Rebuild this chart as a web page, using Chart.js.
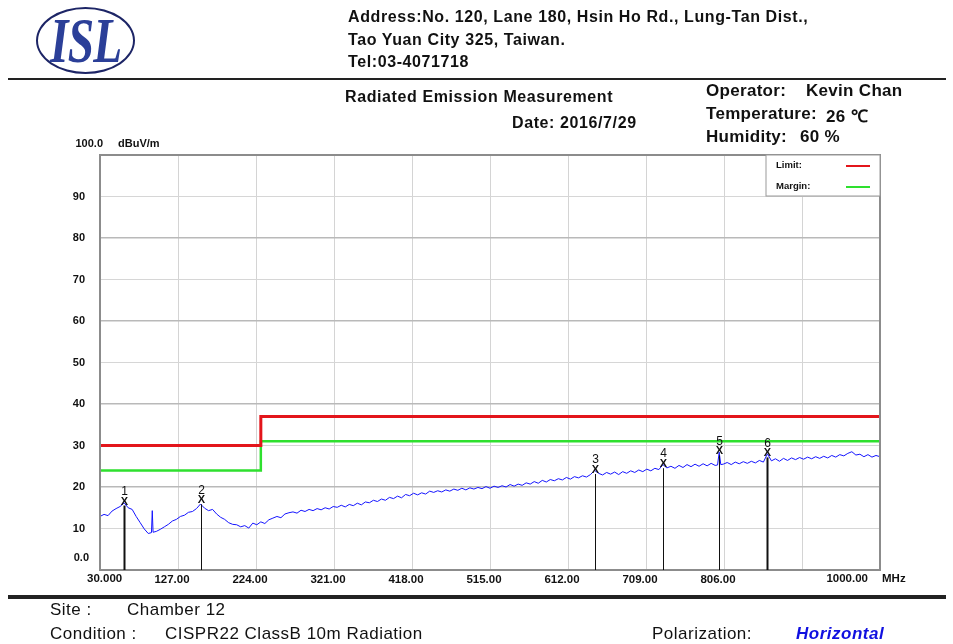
<!DOCTYPE html>
<html>
<head>
<meta charset="utf-8">
<script src="https://cdn.jsdelivr.net/npm/chart.js@4.4.0/dist/chart.umd.min.js"></script>
<style>
  body { margin: 0; background: #fff; }
  #page { position: relative; width: 953px; height: 644px; overflow: hidden; font-family: "Liberation Sans", Arial, sans-serif; color: #111; }
  #page canvas { position: absolute; left: 0; top: 0; }
  .t { position: absolute; white-space: nowrap; font-weight: bold; }
  .hd { font-size: 16px; letter-spacing: 0.6px; }
  .op { font-size: 17px; letter-spacing: 0.3px; }
  .ft { font-size: 17px; letter-spacing: 0.5px; font-weight: normal; }
  #logo { position: absolute; left: 36px; top: 7px; width: 95px; height: 63px; border: 2px solid #1d2566; border-radius: 50%; }
  #logo span { position: absolute; left: 12px; top: -5px; font-family: "Liberation Serif", "DejaVu Serif", serif; font-style: italic; font-weight: bold; font-size: 64px; color: #2b3f98; transform: scaleX(0.74); transform-origin: left top; letter-spacing: -1px; }
  .rule { position: absolute; left: 8px; width: 938px; background: #222; }
</style>
</head>
<body>
<div id="page">
  <canvas id="chart" width="953" height="644"></canvas>
  <div id="logo"><span>ISL</span></div>
  <div class="t hd" style="left:348px;top:8px;">Address:No. 120, Lane 180, Hsin Ho Rd., Lung-Tan Dist.,</div>
  <div class="t hd" style="left:348px;top:31px;">Tao Yuan City 325, Taiwan.</div>
  <div class="t hd" style="left:348px;top:53px;">Tel:03-4071718</div>
  <div class="rule" style="top:78px;height:2px;"></div>
  <div class="t hd" style="left:345px;top:88px;">Radiated Emission Measurement</div>
  <div class="t hd" style="left:512px;top:114px;">Date: 2016/7/29</div>
  <div class="t op" style="left:706px;top:81px;">Operator:</div>
  <div class="t op" style="left:806px;top:81px;">Kevin Chan</div>
  <div class="t op" style="left:706px;top:104px;">Temperature:</div>
  <div class="t op" style="left:826px;top:104px;">26 ℃</div>
  <div class="t op" style="left:706px;top:127px;">Humidity:</div>
  <div class="t op" style="left:800px;top:127px;">60 %</div>
  <div class="rule" style="top:595px;height:4px;"></div>
  <div class="t ft" style="left:50px;top:600px;">Site :</div>
  <div class="t ft" style="left:127px;top:600px;">Chamber 12</div>
  <div class="t ft" style="left:50px;top:624px;">Condition :</div>
  <div class="t ft" style="left:165px;top:624px;">CISPR22 ClassB 10m Radiation</div>
  <div class="t ft" style="left:652px;top:624px;">Polarization:</div>
  <div class="t ft" style="left:796px;top:624px;color:#1010e0;font-style:italic;font-weight:bold;">Horizontal</div>
</div>
<script>
// sweep frequencies (MHz) and measured level (dBuV/m)
var traceFreq = [
  30, 35, 40, 45, 50, 55, 60, 65, 70, 75,
  80, 85, 90, 94, 95, 96, 100, 105, 110, 115, 120, 125,
  130, 135, 140, 145, 150, 155, 160, 165, 170, 175,
  180, 185, 190, 195, 200, 205, 210, 215, 220, 225,
  230, 235, 240, 245, 250, 255, 260, 265, 270, 275,
  280, 285, 290, 295, 300, 305, 310, 315, 320, 325,
  330, 335, 340, 345, 350, 355, 360, 365, 370, 375,
  380, 385, 390, 395, 400, 405, 410, 415, 420, 425,
  430, 435, 440, 445, 450, 455, 460, 465, 470, 475,
  480, 485, 490, 495, 500, 505, 510, 515, 520, 525,
  530, 535, 540, 545, 550, 555, 560, 565, 570, 575,
  580, 585, 590, 595, 600, 605, 610, 615, 620, 625,
  630, 635, 640, 645, 650, 655, 660, 665, 670, 675,
  680, 685, 690, 695, 700, 705, 710, 715, 720, 725,
  730, 735, 740, 745, 750, 755, 760, 765, 770, 775,
  780, 785, 790, 795, 798, 800, 802, 805, 810, 815, 820, 825,
  830, 835, 840, 845, 850, 855, 860, 865, 870, 875,
  880, 885, 890, 895, 900, 905, 910, 915, 920, 925,
  930, 935, 940, 945, 950, 955, 960, 965, 970, 975,
  980, 985, 990, 995, 1000
];
var traceLevel = [
  12.9, 13.4, 13.1, 14.2, 14.8, 15.3, 16.2, 15.0, 14.6, 12.9,
  11.4, 9.9, 8.8, 9.0, 14.3, 9.1, 9.3, 9.8, 10.4, 11.0, 11.8, 12.2,
  12.9, 13.2, 13.9, 14.1, 14.8, 15.9, 14.9, 14.3, 14.6, 13.5,
  12.7, 12.2, 11.4, 11.0, 10.9, 10.4, 10.7, 10.1, 11.3, 10.9,
  11.6, 11.2, 12.1, 12.5, 12.9, 12.6, 13.5, 13.8, 14.0, 13.7,
  14.4, 14.1, 14.6, 14.3, 14.8, 14.5, 15.0, 14.7, 15.3, 15.1,
  15.6, 15.2, 15.8, 15.5, 16.1, 15.7, 16.4, 16.2, 16.8, 16.5,
  17.1, 16.8, 17.5, 17.2, 17.8, 17.4, 18.2, 17.9, 18.5, 18.1,
  18.6, 18.3, 19.0, 18.7, 19.1, 18.8, 19.3, 19.0, 19.5, 19.2,
  19.7, 19.3, 19.8, 19.5, 19.9, 19.6, 20.1, 19.7, 20.2, 19.9,
  20.3, 20.0, 20.6, 20.2, 20.7, 20.4, 21.0, 20.7, 21.3, 20.9,
  21.6, 21.2, 21.8, 21.5, 22.0, 21.7, 22.3, 21.9, 22.5, 22.2,
  22.7, 22.4, 23.0, 24.0, 23.3, 22.9, 23.5, 23.1, 23.6, 23.0,
  23.7, 23.3, 23.9, 23.5, 24.1, 23.7, 24.3, 23.9, 24.5, 24.2,
  25.4, 24.6, 25.0, 24.5, 25.2, 24.7, 25.4, 24.9, 25.5, 25.0,
  25.6, 25.1, 25.7, 25.2, 25.3, 28.4, 25.4, 25.5, 25.9, 25.4, 26.0, 25.6,
  26.1, 25.7, 26.2, 25.8, 26.4, 26.0, 28.0, 26.3, 26.8, 26.2,
  26.9, 26.4, 27.0, 26.6, 27.1, 26.7, 27.2, 26.8, 27.3, 26.9,
  27.4, 27.0, 27.6, 27.2, 27.8, 27.5, 28.1, 28.5, 27.7, 27.9,
  27.3, 27.8, 27.2, 27.6, 27.3
];

// CISPR22 class B limit and margin
var limitFreq = [30, 230, 230, 1000];
var limitLevel = [30, 30, 37, 37];
var marginLevel = [24, 24, 31, 31];

// peak markers
var markerNo = ['1', '2', '3', '4', '5', '6'];
var markerFreq = [60, 155, 645, 730, 800, 860];
var markerLevel = [16.5, 16.8, 24.1, 25.5, 28.6, 28.1];

var xTickValues = [30, 127, 224, 321, 418, 515, 612, 709, 806, 903, 1000];
var xTickLabels = ['30.000', '127.00', '224.00', '321.00', '418.00', '515.00', '612.00', '709.00', '806.00', '', '1000.00'];

function pts(xs, ys) {
  return xs.map(function(x, i) { return {x: x, y: ys[i]}; });
}

var LBL = '"Liberation Sans", Arial, sans-serif';

var extras = {
  id: 'extras',
  afterDraw: function(chart) {
    var ctx = chart.ctx, a = chart.chartArea;
    var xs = chart.scales.x, ys = chart.scales.y;
    var last = xTickLabels.length - 1;
    ctx.save();
    // plot frame
    ctx.strokeStyle = '#8c8c8c';
    ctx.lineWidth = 2;
    ctx.strokeRect(a.left, a.top, a.right - a.left, a.bottom - a.top);

    ctx.fillStyle = '#111';
    ctx.font = 'bold 11px ' + LBL;
    ctx.textBaseline = 'middle';
    ctx.textAlign = 'right';
    ctx.fillText('100.0', a.left + 3, a.top - 11);
    ctx.fillText('0.0', a.left - 11, ys.getPixelForValue(0) - 12);
    ctx.textAlign = 'left';
    ctx.fillText('dBuV/m', a.left + 18, a.top - 11);

    // end labels of the frequency axis
    ctx.font = 'bold 11.5px ' + LBL;
    ctx.fillText(xTickLabels[0], xs.getPixelForValue(xTickValues[0]) - 13, a.bottom + 9);
    ctx.textAlign = 'right';
    ctx.fillText(xTickLabels[last], xs.getPixelForValue(xTickValues[last]) - 12, a.bottom + 9);
    ctx.textAlign = 'left';
    ctx.fillText('MHz', a.right + 2, a.bottom + 9);

    // legend
    ctx.fillStyle = '#fff';
    ctx.fillRect(a.right - 114, a.top, 114, 41);
    ctx.strokeStyle = '#9a9a9a';
    ctx.lineWidth = 1;
    ctx.strokeRect(a.right - 114, a.top, 114, 41);
    ctx.fillStyle = '#111';
    ctx.font = 'bold 9.5px ' + LBL;
    ctx.fillText('Limit:', a.right - 104, a.top + 10);
    ctx.fillText('Margin:', a.right - 104, a.top + 31);
    ctx.lineWidth = 2;
    ctx.strokeStyle = '#e3151b';
    ctx.beginPath(); ctx.moveTo(a.right - 34, a.top + 11); ctx.lineTo(a.right - 10, a.top + 11); ctx.stroke();
    ctx.strokeStyle = '#2ee02e';
    ctx.beginPath(); ctx.moveTo(a.right - 34, a.top + 32); ctx.lineTo(a.right - 10, a.top + 32); ctx.stroke();

    // markers
    ctx.textAlign = 'center';
    for (var i = 0; i < markerNo.length; i++) {
      var px = Math.round(xs.getPixelForValue(markerFreq[i])) + 0.5;
      var py = ys.getPixelForValue(markerLevel[i]);
      ctx.strokeStyle = '#111';
      ctx.lineWidth = (i === 0 || i === 5) ? 2 : 1;
      ctx.beginPath(); ctx.moveTo(px, a.bottom); ctx.lineTo(px, py + 4); ctx.stroke();
      ctx.fillStyle = '#111';
      ctx.font = 'bold 11px ' + LBL;
      ctx.fillText('X', px, py);
      ctx.font = '12px ' + LBL;
      ctx.fillText(markerNo[i], px, py - 10);
    }
    ctx.restore();
  }
};

var ctx = document.getElementById('chart').getContext('2d');
var chart = new Chart(ctx, {
  type: 'line',
  data: {
    datasets: [
      {
        label: 'Level',
        data: pts(traceFreq, traceLevel),
        borderColor: '#1414ff',
        borderWidth: 1,
        pointRadius: 0,
        fill: false
      },
      {
        label: 'Limit',
        data: pts(limitFreq, limitLevel),
        borderColor: '#e3151b',
        borderWidth: 3,
        pointRadius: 0,
        fill: false
      },
      {
        label: 'Margin',
        data: pts(limitFreq, marginLevel),
        borderColor: '#2ee02e',
        borderWidth: 2.5,
        pointRadius: 0,
        fill: false
      }
    ]
  },
  options: {
    responsive: false,
    animation: false,
    devicePixelRatio: 1,
    layout: { padding: { left: 60, top: 155, right: 73, bottom: 48 } },
    plugins: { legend: { display: false }, tooltip: { enabled: false } },
    scales: {
      x: {
        type: 'linear',
        min: 30,
        max: 1000,
        afterBuildTicks: function(scale) {
          scale.ticks = xTickValues.map(function(v) { return {value: v}; });
        },
        afterFit: function(scale) { scale.height = 26; },
        grid: { color: '#d4d4d4', lineWidth: 1, drawTicks: false },
        border: { color: '#8c8c8c', width: 2 },
        ticks: {
          autoSkip: false,
          maxRotation: 0,
          padding: 3,
          labelOffset: -6,
          color: '#111',
          font: { family: LBL, weight: 'bold', size: 11.5 },
          callback: function(v) {
            var k = xTickValues.indexOf(v);
            return (k === 0 || k === xTickValues.length - 1) ? '' : xTickLabels[k];
          }
        }
      },
      y: {
        min: 0,
        max: 100,
        afterFit: function(scale) { scale.width = 40; },
        grid: {
          drawTicks: false,
          color: function(c) { return c.tick.value % 20 === 0 ? '#b9b9b9' : '#d6d6d6'; },
          lineWidth: function(c) { return c.tick.value % 20 === 0 ? 1.5 : 1; }
        },
        border: { color: '#8c8c8c', width: 2 },
        ticks: {
          stepSize: 10,
          padding: 15,
          color: '#111',
          font: { family: LBL, weight: 'bold', size: 11 },
          callback: function(v) { return (v === 0 || v === 100) ? '' : String(v); }
        }
      }
    }
  },
  plugins: [extras]
});
</script>
</body>
</html>
